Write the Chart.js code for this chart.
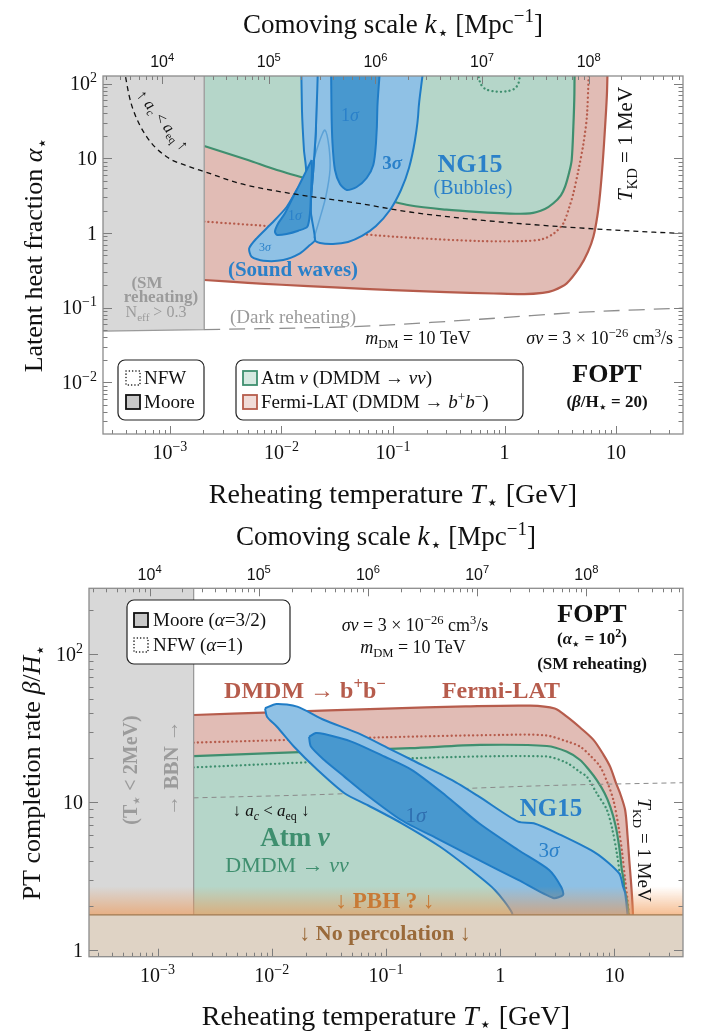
<!DOCTYPE html>
<html><head><meta charset="utf-8">
<script src="https://cdn.jsdelivr.net/npm/chart.js@4.4.1/dist/chart.umd.min.js"></script>
<style>
html,body{margin:0;padding:0;background:#fff;}
#wrap{position:relative;width:702px;height:1034px;overflow:hidden;background:#fff}
canvas{position:absolute;left:0}
#c1{top:0}#c2{top:517px}
</style></head><body>
<div id="wrap"><canvas id="c1" width="702" height="517"></canvas><canvas id="c2" width="702" height="517"></canvas></div>
<script>
// ================= DATA (x = reheating temperature T* in GeV) =================
// ---- top panel: y = latent heat fraction alpha* ----
const topGrayRegion  = [[1e-5,0.045],[2.03e-3,0.051],[2.03e-3,600],[1e-5,600],[1e-5,0.045]];
const topDarkReheat  = [[2.03e-3,0.051],[0.02,0.054],[0.08,0.058],[0.6,0.07],[5,0.087],[50,0.1]];
const topFermiMoore  = [[2.03e-3,0.235],[0.005,0.215],[0.01,0.203],[0.03,0.187],[0.1,0.172],[0.3,0.162],[0.8,0.155],[1.5,0.152],[2.2,0.158],[2.74,0.17],[3.61,0.212],[4.75,0.354],[5.6,0.56],[6.26,0.89],[6.8,1.7],[7.19,3.4],[7.6,9],[7.97,26.4],[8.3,80],[8.5,600]];
const topFermiNFW    = [[2.03e-3,1.42],[0.01,1.2],[0.05,0.97],[0.15,0.86],[0.6,0.78],[1.5,0.78],[2.2,0.83],[2.8,1.0],[3.37,1.35],[3.8,2.2],[4.14,3.4],[4.6,7],[5.1,15.8],[5.5,40],[5.85,600]];
const topAtmMoore    = [[2.03e-3,14.6],[0.005,9.5],[0.0091,6.97],[0.0235,4.67],[0.066,3.06],[0.14,2.35],[0.3,2.05],[0.6,1.9],[1.0,1.83],[1.69,1.83],[2.3,2.1],[2.74,2.5],[3.2,3.2],[3.49,4.17],[3.8,6.5],[4.0,9.5],[4.14,26.5],[4.23,74],[4.27,600]];
const topAtmNFW      = [[0.555,600],[0.575,150],[0.61,100],[0.68,84],[0.85,78],[1.05,79],[1.22,85],[1.33,100],[1.38,150],[1.40,600]];
const topAcAeq       = [[3.88e-4,160],[4.3e-4,70],[4.69e-4,44.3],[6.18e-4,19.5],[9.34e-4,10.5],[1.51e-3,7.7],[2.06e-3,6.6],[4.25e-3,4.6],[0.0119,3.4],[0.0472,2.52],[0.142,1.91],[0.603,1.49],[3.35,1.21],[37.5,0.99],[50,0.98]];
const topBubbles3    = [[0.02069,600],[0.02039,26.5],[0.01929,6.97],[0.01827,2.032],[0.01997,0.806],[0.02215,0.735],[0.02896,0.713],[0.03949,0.758],[0.05272,0.912],[0.0704,1.241],[0.094,2.032],[0.1179,3.763],[0.1391,7.42],[0.1575,17.6],[0.1693,44.3],[0.1747,600],[0.02069,600]];
const topSound3      = [[0.01487,600],[0.01527,44.3],[0.01591,12.9],[0.01659,5.976],[0.01369,3.763],[0.01113,2.229],[0.00817,1.349],[0.00599,0.849],[0.00514,0.624],[0.0054,0.4817],[0.00687,0.4258],[0.01038,0.4351],[0.01466,0.5349],[0.01801,0.691],[0.01997,0.806],[0.01827,2.032],[0.01929,6.97],[0.02039,26.5],[0.02069,600],[0.01487,600]];
const topSoundTip    = [[0.01466,2.766],[0.01877,8.136],[0.02215,17.6],[0.02455,23.9],[0.02667,14.2],[0.02723,6.97],[0.02506,3.13],[0.02215,1.588],[0.01957,0.857]];
const topBubbles1    = [[0.02763,600],[0.02809,44.3],[0.02867,16.03],[0.03018,6.97],[0.03347,4.53],[0.03845,3.763],[0.04724,4.128],[0.05807,5.448],[0.06657,8.136],[0.0704,16.03],[0.07232,44.3],[0.07232,600],[0.02763,600]];
const topSound1      = [[0.01866,9.49],[0.0174,7.72],[0.01518,5.12],[0.01276,3.06],[0.01075,1.835],[0.00936,1.349],[0.00874,1.041],[0.00917,0.94],[0.01113,0.97],[0.01415,1.073],[0.01704,1.214],[0.01801,1.835],[0.01839,3.4],[0.01877,6.97],[0.01866,9.49]];

// ---- bottom panel: y = beta/H* ----
const botGrayRegion  = [[1e-5,0.3],[2.07e-3,0.3],[2.07e-3,1000],[1e-5,1000],[1e-5,0.3]];
const botFermiMoore  = [[2.07e-3,38.9],[0.01,40.5],[0.1,43],[0.5,44.5],[1.83,45],[3.0,43],[3.83,37.9],[5,32],[6.55,26.4],[8,21],[9.16,17.4],[10.3,13.5],[11.2,11.5],[12.4,8.85],[13,6],[13.5,4],[14,2.8],[14.4,2.0],[14.6,1.5],[14.7,0.5]];
const botFermiNFW    = [[2.07e-3,25.3],[0.1,27.5],[1,28.5],[2.5,28.3],[4.0,25.5],[5.0,23.8],[6.2,20.5],[7.5,17.4],[8.7,13.5],[9.8,10.3],[10.8,7],[11.7,4.5],[12.4,3],[13,2.2],[13.5,1.6],[13.7,0.5]];
const botAtmMoore    = [[2.07e-3,20.5],[0.01,21.5],[0.163,23.2],[0.667,24.4],[2.56,24],[3.8,22],[5.0,19.3],[6.0,16.5],[7.0,14.1],[8.2,11.5],[9.2,9.3],[10.2,7],[11,5],[11.6,3.5],[12,3.0],[12.2,2.6],[12.8,2.2],[13.3,1.73],[13.5,0.5]];
const botAtmNFW      = [[2.07e-3,17.2],[0.16,19.8],[2.5,20.4],[3.8,18.5],[5.0,16],[5.73,14.9],[7,11.5],[8.57,8.9],[9.6,6.5],[10.5,4.5],[11.2,3.2],[11.8,2.4],[12.4,1.9],[12.8,1.6],[13,0.5]];
const botAcAeq       = [[2.07e-3,10.7],[0.03,11.3],[0.3,12.2],[3,13],[50,13.6]];
const botNG15sig3    = [[8.73e-3,43.2],[0.011,46.2],[0.0167,44.3],[0.0288,36],[0.0569,29.3],[0.112,22.6],[0.169,19.3],[0.379,14.1],[0.653,10.9],[1.435,7.38],[1.965,7.2],[3.15,6.16],[6.92,4.51],[11.0,3.3],[11.9,2.68],[12.4,2.43],[13.0,1.73],[13.2,1.4],[1.3,1.4],[1.27,1.78],[0.897,2.55],[0.556,3.48],[0.298,5.0],[0.136,7.23],[0.07,9.5],[0.0433,11.5],[0.0252,16.5],[0.0156,23.8],[0.0111,32.4],[9.08e-3,37.9],[8.73e-3,43.2]];
const botNG15sig1    = [[0.0212,27.7],[0.0243,29.4],[0.0288,28.9],[0.0497,25.7],[0.0977,20.3],[0.169,16.5],[0.329,11.2],[0.653,7.2],[1.435,4.75],[2.68,3.48],[3.41,2.68],[3.55,2.36],[2.91,2.25],[1.435,2.98],[0.653,4.06],[0.298,5.55],[0.136,7.58],[0.065,11.5],[0.0432,14.9],[0.0288,19.3],[0.022,23.8],[0.0212,27.7]];
const botPBHLevel    = [[1e-5,2.7],[1e3,2.7]];
const botPercLevel   = [[1e-5,1.73],[1e3,1.73]];

// ---- axis ticks & labels ----
const xTickValues = [1e-3,1e-2,1e-1,1,10];
const xTickLabels = [['10','−3'],['10','−2'],['10','−1'],['1',''],['10','']];
const kTickValues = [1e4,1e5,1e6,1e7,1e8];
const kTickLabels = [['10','4'],['10','5'],['10','6'],['10','7'],['10','8']];
const yTopTickValues = [100,10,1,0.1,0.01];
const yTopTickLabels = [['10','2'],['10',''],['1',''],['10','−1'],['10','−2']];
const yBotTickValues = [100,10,1];
const yBotTickLabels = [['10','2'],['10',''],['1','']];

// ================= STYLE =================
const SERIF = '"Liberation Serif","Times New Roman",serif';
const SANS = '"Liberation Sans",Arial,sans-serif';
const RED_LINE='#b65c4c', RED_FILL='#e1bcb5', GREEN_LINE='#3f8f6f', GREEN_FILL='#b5d6c9';
const BLUE_LINE='#1f7cc6', BLUE_LIGHT='#8fc1e5', BLUE_DARK='#4898cf', BLUE_TEXT='#2a80c9';
const GRAY_FILL='#d8d8d8', GRAY_LINE='#9a9a9a', GRAY_TEXT='#9b9b9b';

const pts = arr => arr.map(([x,y]) => ({x, y}));
function ds(data, o) {
  return Object.assign({data: pts(data), pointRadius:0, borderWidth:2, fill:false, tension:0.3,
    borderColor:'rgba(0,0,0,0)', backgroundColor:'rgba(0,0,0,0)', borderJoinStyle:'round'}, o);
}

function rich(ctx, parts, x, y, o = {}) {
  const size = o.size || 18, fam = o.family || SERIF, base = o.weight || '';
  const segs = parts.map(p => {
    const [t, st = ''] = Array.isArray(p) ? p : [p, ''];
    const script = st.includes('_') || st.includes('^');
    const sz = script ? size * 0.7 : size;
    let style = '';
    if (st.includes('i')) style += 'italic ';
    if (st.includes('b') || (base === 'bold' && !st.includes('n'))) style += 'bold ';
    const font = style + sz.toFixed(1) + 'px ' + fam;
    ctx.font = font;
    const w = ctx.measureText(t).width;
    const dy = st.includes('_') ? size * 0.22 : st.includes('^') ? -size * 0.4 : 0;
    return {t, font, w, dy};
  });
  const total = segs.reduce((s, g) => s + g.w, 0);
  ctx.save();
  ctx.translate(x, y);
  if (o.rot) ctx.rotate(o.rot);
  ctx.fillStyle = o.color || '#111';
  ctx.textBaseline = 'alphabetic';
  ctx.textAlign = 'left';
  let cx = o.align === 'left' ? 0 : o.align === 'right' ? -total : -total / 2;
  const by = size * 0.34;
  for (const g of segs) { ctx.font = g.font; ctx.fillText(g.t, cx, by + g.dy); cx += g.w; }
  ctx.restore();
  return total;
}

function logTicks(scale) {
  const out = [];
  const d0 = Math.floor(Math.log10(scale.min)), d1 = Math.ceil(Math.log10(scale.max));
  for (let d = d0; d <= d1; d++) for (let m = 1; m < 10; m++) {
    const v = m * Math.pow(10, d);
    if (v >= scale.min * 0.9999 && v <= scale.max * 1.0001) out.push({v, major: m === 1});
  }
  return out;
}

function roundBox(ctx, x, y, w, h, r) {
  ctx.save(); ctx.beginPath(); ctx.roundRect(x, y, w, h, r);
  ctx.fillStyle = '#fff'; ctx.fill(); ctx.strokeStyle = '#222'; ctx.lineWidth = 1.2; ctx.stroke(); ctx.restore();
}
function swatch(ctx, x, y, s, fill, stroke, dotted) {
  ctx.save(); ctx.fillStyle = fill; ctx.fillRect(x, y, s, s);
  ctx.strokeStyle = stroke; ctx.lineWidth = dotted ? 1.5 : 1.8;
  if (dotted) { ctx.setLineDash([0.1, 3.2]); ctx.lineCap = 'round'; }
  ctx.strokeRect(x, y, s, s); ctx.restore();
}

function decor(cfg) {
  return {
    id: 'decor',
    afterDatasetsDraw(chart) {
      const ctx = chart.ctx, a = chart.chartArea;
      const sx = chart.scales.x, sy = chart.scales.y, sk = chart.scales.xk;
      ctx.save();
      ctx.strokeStyle = '#7d7d7d'; ctx.lineWidth = 1;
      ctx.beginPath();
      for (const t of logTicks(sx)) { const p = Math.round(sx.getPixelForValue(t.v)) + 0.5; ctx.moveTo(p, a.bottom); ctx.lineTo(p, a.bottom - (t.major ? 8 : 4)); }
      for (const t of logTicks(sk)) { const p = Math.round(sk.getPixelForValue(t.v)) + 0.5; ctx.moveTo(p, a.top); ctx.lineTo(p, a.top + (t.major ? 8 : 4)); }
      for (const t of logTicks(sy)) {
        const p = Math.round(sy.getPixelForValue(t.v)) + 0.5;
        ctx.moveTo(a.left, p); ctx.lineTo(a.left + (t.major ? 9 : 4.5), p);
        ctx.moveTo(a.right, p); ctx.lineTo(a.right - (t.major ? 9 : 4.5), p);
      }
      ctx.stroke();
      ctx.strokeStyle = '#8c8c8c'; ctx.lineWidth = 1.3;
      ctx.strokeRect(a.left, a.top, a.right - a.left, a.bottom - a.top);
      // tick labels
      xTickValues.forEach((v, i) => rich(ctx, [xTickLabels[i][0], [xTickLabels[i][1], '^']], sx.getPixelForValue(v), a.bottom + 18, {size: 20}));
      kTickValues.forEach((v, i) => rich(ctx, [kTickLabels[i][0], [kTickLabels[i][1], '^']], sk.getPixelForValue(v), a.top - 14, {size: 16, family: SANS}));
      cfg.yVals.forEach((v, i) => rich(ctx, [cfg.yLabs[i][0], [cfg.yLabs[i][1], '^']], a.left - 6, sy.getPixelForValue(v), {size: 20, align: 'right'}));
      const cx = (a.left + a.right) / 2;
      rich(ctx, ['Comoving scale ', ['k', 'i'], ['⋆', '_'], ' [Mpc', ['−1', '^'], ']'], cx, a.top - 52, {size: 27});
      rich(ctx, ['Reheating temperature ', ['T', 'i'], ['⋆', '_'], ' [GeV]'], cx, a.bottom + 59, {size: 28});
      rich(ctx, cfg.yTitle, cfg.yTitleX, (a.top + a.bottom) / 2, {size: 26, rot: -Math.PI / 2});
      cfg.notes(ctx, chart);
      ctx.restore();
    }
  };
}

function baseOptions(pad, yMin, yMax) {
  return {
    responsive: false, animation: false, devicePixelRatio: 1, events: [],
    layout: {padding: pad},
    plugins: {legend: {display: false}, tooltip: {enabled: false}},
    elements: {line: {capBezierPoints: false}, point: {radius: 0}},
    scales: {
      x: {type: 'logarithmic', min: Math.pow(10, -3.6), max: Math.pow(10, 1.6), display: false},
      y: {type: 'logarithmic', min: yMin, max: yMax, display: false},
      xk: {type: 'logarithmic', axis: 'x', position: 'top', min: Math.pow(10, 3.445), max: Math.pow(10, 8.885), display: false}
    }
  };
}

// ================= TOP CHART =================
const dotted = {borderDash: [0.1, 4.2], borderCapStyle: 'round', borderWidth: 2.3};
new Chart(document.getElementById('c1'), {
  type: 'line',
  data: {datasets: [
    ds(topFermiMoore, {fill: 'end', backgroundColor: RED_FILL, borderColor: RED_LINE, borderWidth: 2.2, order: 100}),
    ds(topFermiNFW, Object.assign({borderColor: RED_LINE, order: 95}, dotted)),
    ds(topAtmMoore, {fill: 'end', backgroundColor: GREEN_FILL, borderColor: GREEN_LINE, borderWidth: 2.2, order: 90}),
    ds(topAtmNFW, Object.assign({borderColor: GREEN_LINE, order: 85}, dotted)),
    ds(topGrayRegion, {fill: 'shape', tension: 0, backgroundColor: GRAY_FILL, borderColor: GRAY_LINE, borderWidth: 1.3, order: 80}),
    ds(topDarkReheat, {borderColor: '#8e8e8e', borderWidth: 1.3, borderDash: [16, 9], order: 78}),
    ds(topBubbles3, {fill: 'shape', tension: 0.25, backgroundColor: BLUE_LIGHT, borderColor: BLUE_LINE, borderWidth: 2, order: 70}),
    ds(topSound3, {fill: 'shape', tension: 0.25, backgroundColor: BLUE_LIGHT, borderColor: BLUE_LINE, borderWidth: 2, order: 69}),
    ds(topSoundTip, {borderColor: 'rgba(30,124,198,0.45)', borderWidth: 1.5, order: 68}),
    ds(topBubbles1, {fill: 'shape', tension: 0.25, backgroundColor: BLUE_DARK, borderColor: BLUE_LINE, borderWidth: 2, order: 60}),
    ds(topSound1, {fill: 'shape', tension: 0.25, backgroundColor: BLUE_DARK, borderColor: BLUE_LINE, borderWidth: 2, order: 59}),
    ds(topAcAeq, {borderColor: '#111', borderWidth: 1.3, borderDash: [5, 4], cubicInterpolationMode: 'monotone', order: 50})
  ]},
  options: baseOptions({left: 103, right: 19, top: 76, bottom: 83}, Math.pow(10, -2.691), Math.pow(10, 2.102)),
  plugins: [decor({
    yVals: yTopTickValues, yLabs: yTopTickLabels, yTitleX: 33,
    yTitle: ['Latent heat fraction ', ['α', 'i'], ['⋆', '_']],
    notes(ctx) {
      rich(ctx, ['↑ ', ['a', 'i'], ['c', 'i_'], ' < ', ['a', 'i'], ['eq', '_'], ' ↑'], 163, 120, {size: 16, rot: 51 * Math.PI / 180});
      rich(ctx, ['1', ['σ', 'i']], 350, 115, {size: 18, color: BLUE_TEXT});
      rich(ctx, ['3', ['σ', 'i']], 392, 163, {size: 19, weight: 'bold', color: BLUE_TEXT});
      rich(ctx, ['1', ['σ', 'i']], 295, 215, {size: 14, color: BLUE_TEXT});
      rich(ctx, ['3', ['σ', 'i']], 265, 247, {size: 12, color: BLUE_TEXT});
      rich(ctx, ['(Sound waves)'], 293, 269, {size: 21, weight: 'bold', color: BLUE_TEXT});
      rich(ctx, ['NG15'], 470, 163, {size: 26, weight: 'bold', color: BLUE_TEXT});
      rich(ctx, ['(Bubbles)'], 473, 187, {size: 20, color: BLUE_TEXT});
      rich(ctx, [['T', 'i'], ['KD', '_'], ' = 1 MeV'], 625, 144, {size: 21, rot: -Math.PI / 2});
      rich(ctx, ['(SM'], 147, 282, {size: 17, weight: 'bold', color: GRAY_TEXT});
      rich(ctx, ['reheating)'], 161, 296, {size: 17, weight: 'bold', color: GRAY_TEXT});
      rich(ctx, ['N', ['eff', '_'], ' > 0.3'], 156, 312, {size: 16, color: GRAY_TEXT});
      rich(ctx, ['(Dark reheating)'], 293, 317, {size: 19, color: GRAY_TEXT});
      rich(ctx, [['m', 'i'], ['DM', '_'], ' = 10 TeV'], 418, 338, {size: 18});
      rich(ctx, [['σv', 'i'], ' = 3 × 10', ['−26', '^'], ' cm', ['3', '^'], '/s'], 673, 338, {size: 18, align: 'right'});
      roundBox(ctx, 118, 360, 86, 60, 7);
      swatch(ctx, 126, 371, 14, '#fff', '#111', true);
      rich(ctx, ['NFW'], 144, 378, {size: 19, align: 'left'});
      swatch(ctx, 126, 395, 14, '#c8c8c8', '#111', false);
      rich(ctx, ['Moore'], 144, 402, {size: 19, align: 'left'});
      roundBox(ctx, 236, 360, 287, 60, 7);
      swatch(ctx, 243, 371, 14, '#d6e9e1', GREEN_LINE, false);
      rich(ctx, ['Atm ', ['ν', 'i'], ' (DMDM → ', ['νν', 'i'], ')'], 261, 378, {size: 19, align: 'left'});
      swatch(ctx, 243, 395, 14, '#f1dcd8', RED_LINE, false);
      rich(ctx, ['Fermi-LAT (DMDM → ', ['b', 'i'], ['+', '^'], ['b', 'i'], ['−', '^'], ')'], 261, 402, {size: 19, align: 'left'});
      rich(ctx, ['FOPT'], 607, 373, {size: 26, weight: 'bold'});
      rich(ctx, ['(', ['β', 'bi'], '/H', ['⋆', '_'], ' = 20)'], 607, 401, {size: 17, weight: 'bold'});
    }
  })]
});

// ================= BOTTOM CHART =================
new Chart(document.getElementById('c2'), {
  type: 'line',
  data: {datasets: [
    ds(botFermiMoore, {fill: 'start', backgroundColor: RED_FILL, borderColor: RED_LINE, borderWidth: 2.2, order: 100}),
    ds(botFermiNFW, Object.assign({borderColor: RED_LINE, order: 95}, dotted)),
    ds(botAtmMoore, {fill: 'start', backgroundColor: GREEN_FILL, borderColor: GREEN_LINE, borderWidth: 2.2, order: 90}),
    ds(botAtmNFW, Object.assign({borderColor: GREEN_LINE, order: 85}, dotted)),
    ds(botAcAeq, {borderColor: '#8a8a8a', borderWidth: 1, borderDash: [5, 4], order: 80}),
    ds(botNG15sig3, {fill: 'shape', tension: 0.25, backgroundColor: BLUE_LIGHT, borderColor: BLUE_LINE, borderWidth: 2, order: 70}),
    ds(botNG15sig1, {fill: 'shape', tension: 0.25, backgroundColor: BLUE_DARK, borderColor: BLUE_LINE, borderWidth: 2, order: 60}),
    ds(botGrayRegion, {fill: 'shape', tension: 0, backgroundColor: GRAY_FILL, borderColor: GRAY_LINE, borderWidth: 1.3, order: 50}),
    ds(botPBHLevel, {fill: 'start', tension: 0, borderWidth: 0, order: 40,
      backgroundColor: (c) => {
        const ch = c.chart, a = ch.chartArea;
        if (!a) return 'rgba(0,0,0,0)';
        const y = ch.scales.y;
        const g = ch.ctx.createLinearGradient(0, y.getPixelForValue(botPBHLevel[0][1]), 0, y.getPixelForValue(botPercLevel[0][1]));
        g.addColorStop(0, 'rgba(240,150,80,0)'); g.addColorStop(1, 'rgba(240,150,80,0.62)');
        return g;
      }}),
    ds(botPercLevel, {fill: 'start', tension: 0, backgroundColor: '#dfd3c5', borderColor: '#a0784f', borderWidth: 1.2, order: 30})
  ]},
  options: baseOptions({left: 89, right: 19, top: 71.3, bottom: 77.3}, Math.pow(10, -0.045), Math.pow(10, 2.447)),
  plugins: [decor({
    yVals: yBotTickValues, yLabs: yBotTickLabels, yTitleX: 31,
    yTitle: ['PT completion rate ', ['β', 'i'], '/', ['H', 'i'], ['⋆', '_']],
    notes(ctx) {
      roundBox(ctx, 127, 83, 163, 64, 7);
      swatch(ctx, 134, 96, 14, '#c8c8c8', '#111', false);
      rich(ctx, ['Moore (', ['α', 'i'], '=3/2)'], 153, 103, {size: 19, align: 'left'});
      swatch(ctx, 134, 121, 14, '#fff', '#111', true);
      rich(ctx, ['NFW (', ['α', 'i'], '=1)'], 153, 128, {size: 19, align: 'left'});
      rich(ctx, [['σv', 'i'], ' = 3 × 10', ['−26', '^'], ' cm', ['3', '^'], '/s'], 415, 108, {size: 18});
      rich(ctx, [['m', 'i'], ['DM', '_'], ' = 10 TeV'], 413, 130, {size: 18});
      rich(ctx, ['FOPT'], 592, 96, {size: 26, weight: 'bold'});
      rich(ctx, ['(', ['α', 'bi'], ['⋆', '_'], ' = 10', ['2', '^'], ')'], 592, 121, {size: 17, weight: 'bold'});
      rich(ctx, ['(SM reheating)'], 592, 146, {size: 17, weight: 'bold'});
      rich(ctx, ['DMDM → b', ['+', '^'], 'b', ['−', '^']], 305, 173, {size: 24, weight: 'bold', color: RED_LINE});
      rich(ctx, ['Fermi-LAT'], 501, 173, {size: 24, weight: 'bold', color: RED_LINE});
      rich(ctx, ['↓ ', ['a', 'i'], ['c', 'i_'], ' < ', ['a', 'i'], ['eq', '_'], ' ↓'], 271, 293, {size: 17});
      rich(ctx, ['Atm ', ['ν', 'bi']], 295, 320, {size: 27, weight: 'bold', color: GREEN_LINE});
      rich(ctx, ['DMDM → ', ['νν', 'i']], 287, 348, {size: 22, color: GREEN_LINE});
      rich(ctx, ['NG15'], 551, 290, {size: 25, weight: 'bold', color: BLUE_TEXT});
      rich(ctx, ['3', ['σ', 'i']], 549, 333, {size: 21, color: BLUE_TEXT});
      rich(ctx, ['1', ['σ', 'i']], 416, 298, {size: 21, color: '#2f6fb0'});
      rich(ctx, [['T', 'i'], ['KD', '_'], ' = 1 MeV'], 644, 333, {size: 19, rot: Math.PI / 2});
      rich(ctx, ['(T', ['⋆', '_'], ' < 2MeV)'], 130, 253, {size: 20, weight: 'bold', color: GRAY_TEXT, rot: -Math.PI / 2});
      rich(ctx, ['→ BBN →'], 171, 251, {size: 21, weight: 'bold', color: GRAY_TEXT, rot: -Math.PI / 2});
      rich(ctx, ['↓ PBH ? ↓'], 385, 383, {size: 23, weight: 'bold', color: '#c87a36'});
      rich(ctx, ['↓ No percolation ↓'], 385, 416, {size: 22, weight: 'bold', color: '#9a6a3a'});
    }
  })]
});
</script>
</body></html>
